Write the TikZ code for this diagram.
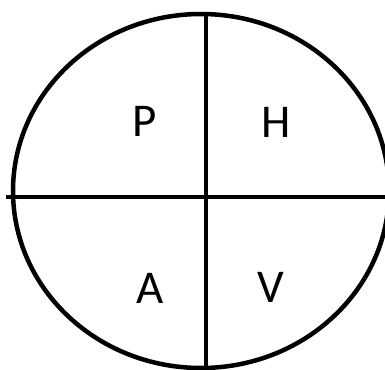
\documentclass[tikz,border=0pt]{standalone}
\usepackage{fontspec}
\setmainfont{Carlito}
\begin{document}
\begin{tikzpicture}[x=1pt,y=-1pt,
  stroke/.style={line width=4.5pt,black},
  letter/.style={font=\fontsize{47}{52}\selectfont,inner sep=0pt,anchor=center}]
\useasboundingbox (0,0) rectangle (385,369);
\begin{scope}
\clip (0,0) rectangle (385,369);
\draw[stroke] (201,191) ellipse [x radius=188, y radius=177];
\coordinate (hl) at (6,197);
\coordinate (hr) at (390,197);
\coordinate (vt) at (206,13);
\coordinate (vb) at (206,372);
\draw[stroke] (hl) -- (hr);
\draw[stroke] (vt) -- (vb);
\end{scope}
\node[letter] (P) at (145,121) {P};
\node[letter] (H) at (276,122) {H};
\node[letter] (A) at (150,288) {A};
\node[letter] (V) at (271,287) {V};
\end{tikzpicture}
\end{document}
